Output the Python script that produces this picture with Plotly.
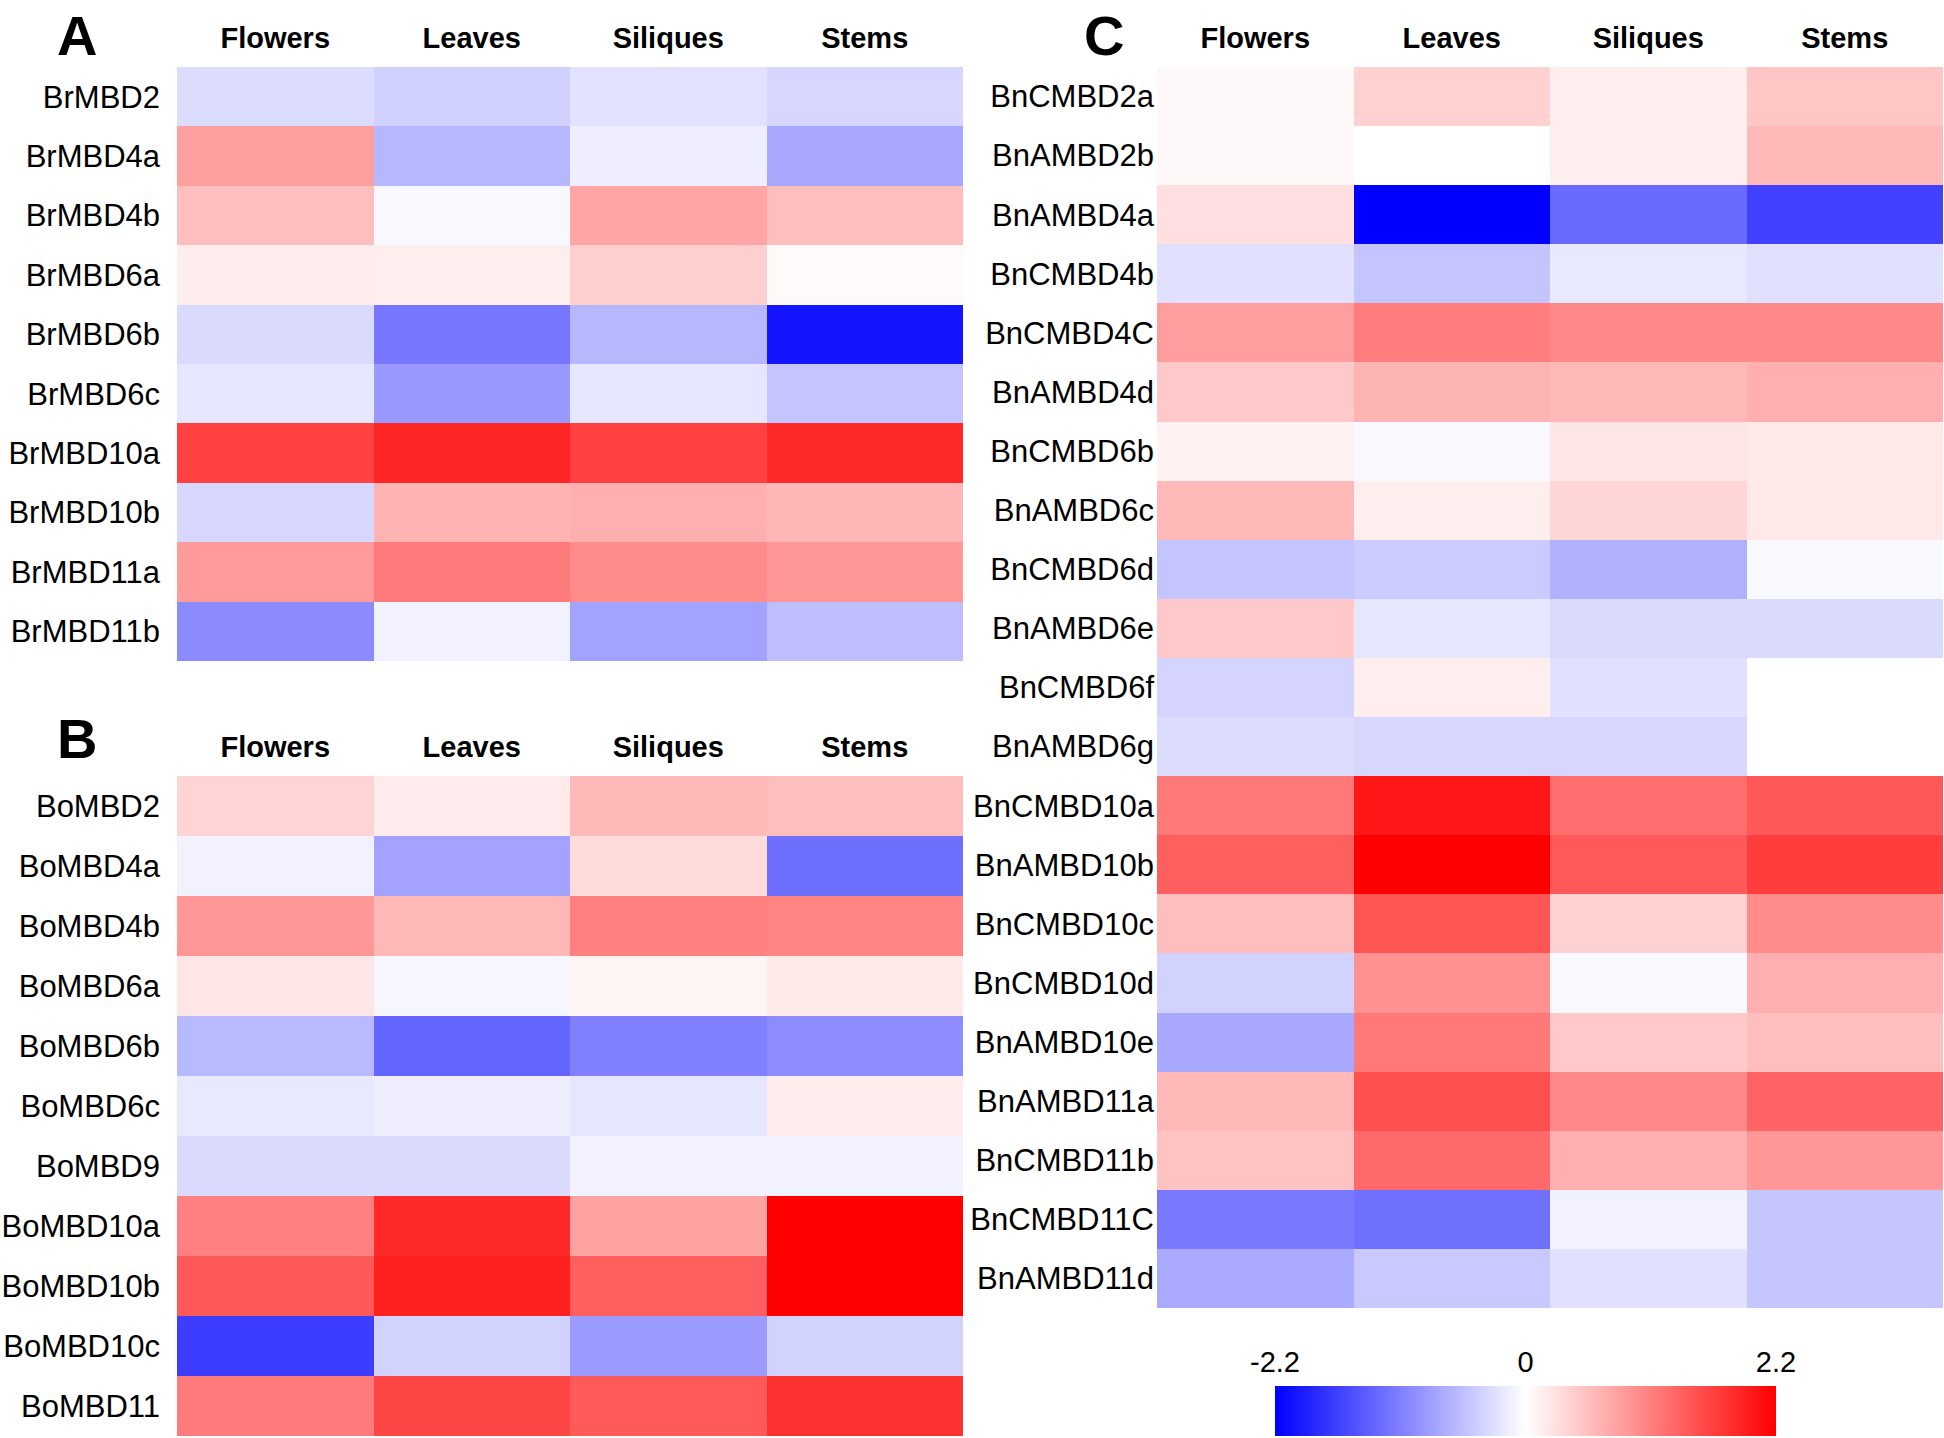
import plotly.graph_objects as go

tissues = ["Flowers", "Leaves", "Siliques", "Stems"]

genes_a = ["BrMBD2", "BrMBD4a", "BrMBD4b", "BrMBD6a", "BrMBD6b",
           "BrMBD6c", "BrMBD10a", "BrMBD10b", "BrMBD11a", "BrMBD11b"]
z_a = [
    [-0.30, -0.40, -0.25, -0.35],
    [0.82, -0.62, -0.15, -0.75],
    [0.56, -0.06, 0.78, 0.56],
    [0.16, 0.15, 0.42, 0.04],
    [-0.32, -1.18, -0.62, -2.03],
    [-0.22, -0.89, -0.22, -0.51],
    [1.64, 1.87, 1.64, 1.85],
    [-0.34, 0.66, 0.69, 0.63],
    [0.86, 1.15, 1.00, 0.90],
    [-1.00, -0.11, -0.80, -0.56],
]

genes_b = ["BoMBD2", "BoMBD4a", "BoMBD4b", "BoMBD6a", "BoMBD6b", "BoMBD6c",
           "BoMBD9", "BoMBD10a", "BoMBD10b", "BoMBD10c", "BoMBD11"]
z_b = [
    [0.37, 0.17, 0.60, 0.56],
    [-0.11, -0.79, 0.30, -1.25],
    [0.90, 0.61, 1.10, 1.06],
    [0.22, -0.08, 0.09, 0.18],
    [-0.60, -1.34, -1.10, -0.99],
    [-0.20, -0.15, -0.22, 0.16],
    [-0.32, -0.32, -0.11, -0.11],
    [1.10, 1.85, 0.80, 2.20],
    [1.44, 1.92, 1.38, 2.20],
    [-1.67, -0.39, -0.86, -0.39],
    [1.15, 1.60, 1.42, 1.77],
]

genes_c = ["BnCMBD2a", "BnAMBD2b", "BnAMBD4a", "BnCMBD4b", "BnCMBD4C",
           "BnAMBD4d", "BnCMBD6b", "BnAMBD6c", "BnCMBD6d", "BnAMBD6e",
           "BnCMBD6f", "BnAMBD6g", "BnCMBD10a", "BnAMBD10b", "BnCMBD10c",
           "BnCMBD10d", "BnAMBD10e", "BnAMBD11a", "BnCMBD11b", "BnCMBD11C",
           "BnAMBD11d"]
z_c = [
    [0.06, 0.40, 0.15, 0.49],
    [0.06, 0.00, 0.15, 0.60],
    [0.28, -2.20, -1.29, -1.64],
    [-0.26, -0.51, -0.20, -0.26],
    [0.84, 1.12, 1.03, 1.03],
    [0.47, 0.65, 0.60, 0.69],
    [0.11, -0.06, 0.22, 0.19],
    [0.60, 0.15, 0.35, 0.20],
    [-0.51, -0.45, -0.68, -0.06],
    [0.47, -0.22, -0.32, -0.32],
    [-0.37, 0.15, -0.26, None],
    [-0.30, -0.35, -0.35, None],
    [1.16, 2.00, 1.25, 1.44],
    [1.38, 2.20, 1.42, 1.67],
    [0.56, 1.47, 0.40, 1.00],
    [-0.39, 0.95, -0.06, 0.69],
    [-0.75, 1.16, 0.47, 0.56],
    [0.60, 1.51, 1.03, 1.35],
    [0.52, 1.29, 0.69, 0.90],
    [-1.16, -1.23, -0.11, -0.49],
    [-0.73, -0.47, -0.26, -0.49],
]

cbar_ticks = [-2.2, 0, 2.2]
cbar_labels = ["-2.2", "0", "2.2"]

W, H = 1944, 1438
scale = [[0, "#0000ff"], [0.5, "#ffffff"], [1, "#ff0000"]]
FONT = "Liberation Sans, Arial, sans-serif"

fig = go.Figure()

panels = [
    ("", genes_a, z_a),
    ("2", genes_b, z_b),
    ("3", genes_c, z_c),
]
for i, (sfx, genes, z) in enumerate(panels):
    fig.add_trace(go.Heatmap(
        z=z, x=tissues, y=genes, xaxis="x" + sfx, yaxis="y" + sfx,
        colorscale=scale, zmin=-2.2, zmax=2.2, hoverongaps=False,
        showscale=(i == 2),
        colorbar=dict(orientation="h", x=1525.5 / W, xanchor="center",
                      y=2 / H, yanchor="bottom", len=501, lenmode="pixels",
                      thickness=50, outlinewidth=0, showticklabels=False,
                      ticks="", xpad=0, ypad=0),
    ))

# invisible trace to carry the colour-bar tick axis
fig.add_trace(go.Scatter(x=cbar_ticks, y=[0, 0, 0], xaxis="x4", yaxis="y4",
                         mode="markers", marker=dict(opacity=0),
                         hoverinfo="skip", showlegend=False))

def xax(dom):
    return dict(domain=dom, side="top", ticks="", showgrid=False,
                zeroline=False, showline=False, ticklabelstandoff=12,
                automargin=False,
                tickfont=dict(family=FONT, size=29, color="black",
                              weight="bold"))

def yax(dom, anchor, standoff):
    return dict(domain=dom, anchor=anchor, autorange="reversed", ticks="",
                showgrid=False, zeroline=False, showline=False,
                ticklabelstandoff=standoff, automargin=False,
                tickfont=dict(family=FONT, size=31, color="black"))

fig.update_layout(
    width=W, height=H,
    margin=dict(l=0, r=0, t=0, b=0, autoexpand=False),
    paper_bgcolor="white", plot_bgcolor="white",
    showlegend=False,
    xaxis=dict(xax([177 / W, 963 / W]), anchor="y"),
    yaxis=yax([1 - 661 / H, 1 - 67 / H], "x", 16),
    xaxis2=dict(xax([177 / W, 963 / W]), anchor="y2"),
    yaxis2=yax([1 - 1436 / H, 1 - 776 / H], "x2", 16),
    xaxis3=dict(xax([1157 / W, 1943 / W]), anchor="y3"),
    yaxis3=yax([1 - 1308 / H, 1 - 67 / H], "x3", 2),
    xaxis4=dict(domain=[1275 / W, 1776 / W], anchor="y4", range=[-2.2, 2.2],
                tickvals=cbar_ticks, ticktext=cbar_labels, ticks="",
                showgrid=False, zeroline=False, showline=False,
                automargin=False,
                tickfont=dict(family=FONT, size=29, color="black")),
    yaxis4=dict(domain=[1 - 1342 / H, 1 - 1330 / H], anchor="x4",
                visible=False, range=[-1, 1]),
)

for letter, x, y in [("A", 77, 36), ("B", 77, 738), ("C", 1104, 36)]:
    fig.add_annotation(text=letter, x=x / W, y=1 - y / H, xref="paper",
                       yref="paper", showarrow=False, xanchor="center",
                       yanchor="middle",
                       font=dict(family=FONT, size=56, color="black",
                                 weight="bold"))

fig.write_html("out.html", config={"displayModeBar": False},
               post_script="document.body.style.margin='0';")
